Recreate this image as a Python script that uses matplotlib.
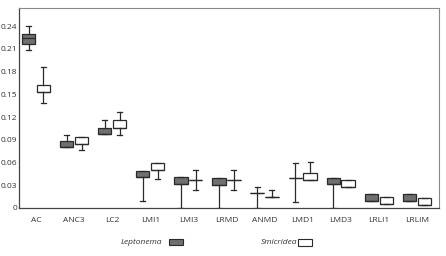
import matplotlib.pyplot as plt
from matplotlib.patches import Rectangle

plt.rcParams['font.family'] = ['Open Sans', 'DejaVu Sans']

categories = ['AC', 'ANC3', 'LC2', 'LMI1', 'LMI3', 'LRMD', 'ANMD', 'LMD1', 'LMD3', 'LRLI1', 'LRLIM']

# Leptonema (dark boxes)
lep_lo = [0.209, 0.080, 0.097, 0.009, 0.0, 0.0, 0.0, 0.0083, 0.0, 0.0097, 0.0089]
lep_q1 = [0.217, 0.080, 0.097, 0.0406, 0.032, 0.031, 0.0195, 0.039, 0.0318, 0.0097, 0.0089]
lep_med = [0.224, 0.080, 0.097, 0.0406, 0.032, 0.031, 0.0195, 0.039, 0.0318, 0.0097, 0.0089]
lep_q3 = [0.230, 0.089, 0.106, 0.049, 0.0406, 0.040, 0.0195, 0.039, 0.040, 0.0185, 0.0185]
lep_hi = [0.240, 0.096, 0.116, 0.049, 0.0406, 0.040, 0.028, 0.059, 0.040, 0.0185, 0.0185]

# Smicridea (white boxes)
smi_lo = [0.139, 0.076, 0.0957, 0.038, 0.024, 0.024, 0.0146, 0.037, 0.0274, 0.0049, 0.004]
smi_q1 = [0.153, 0.085, 0.106, 0.050, 0.0375, 0.0375, 0.0146, 0.037, 0.0274, 0.0049, 0.004]
smi_med = [0.153, 0.085, 0.106, 0.050, 0.0375, 0.0375, 0.0146, 0.037, 0.0274, 0.0049, 0.004]
smi_q3 = [0.162, 0.094, 0.1165, 0.060, 0.0375, 0.0375, 0.0146, 0.0467, 0.037, 0.0142, 0.0136]
smi_hi = [0.186, 0.094, 0.127, 0.060, 0.050, 0.050, 0.024, 0.061, 0.037, 0.0142, 0.0136]

yticks = [0, 0.03, 0.06, 0.09, 0.12, 0.15, 0.18, 0.21, 0.24]
ytick_labels = ['0', '0.03', '0.06', '0.09', '0.12', '0.15', '0.18', '0.21', '0.24']


def stats(lo, q1, med, q3, hi):
    return [dict(whislo=a, q1=b, med=c, q3=d, whishi=e, fliers=[])
            for a, b, c, d, e in zip(lo, q1, med, q3, hi)]


fig = plt.figure(figsize=(4.46, 2.56), dpi=100)
ax = fig.add_axes([0.0426, 0.1875, 0.9414, 0.7815])

pos = list(range(len(categories)))
off = 0.195
w = 0.35
edge = '#2a2a2a'

for st, shift, fill in [(stats(lep_lo, lep_q1, lep_med, lep_q3, lep_hi), -off, '#6f6f6f'),
                        (stats(smi_lo, smi_q1, smi_med, smi_q3, smi_hi), off, 'white')]:
    ax.bxp(st, positions=[p + shift for p in pos], widths=w, capwidths=0.13,
           showfliers=False, patch_artist=True, manage_ticks=False,
           boxprops=dict(facecolor=fill, edgecolor=edge, linewidth=0.9),
           whiskerprops=dict(color=edge, linewidth=0.9),
           capprops=dict(color=edge, linewidth=0.9),
           medianprops=dict(color=edge, linewidth=0.9))

ax.set_xlim(-0.446, 10.577)
ax.set_ylim(0, 0.264)
ax.set_xticks(pos)
ax.set_xticklabels(categories)
ax.set_yticks(yticks)
ax.set_yticklabels(ytick_labels)
ax.tick_params(axis='both', length=0, labelsize=6, colors='#333333')
ax.tick_params(axis='y', pad=1.5)
ax.tick_params(axis='x', pad=6.5)
for s in ['left', 'bottom']:
    ax.spines[s].set_color('#444444')
    ax.spines[s].set_linewidth(0.9)
for s in ['top', 'right']:
    ax.spines[s].set_color('#888888')
    ax.spines[s].set_linewidth(0.8)

# legend
fig.text(121 / 446, 1 - 242 / 256, 'Leptonema', style='italic', fontsize=6,
         color='#333333', va='center', ha='left')
fig.patches.append(Rectangle((169 / 446, 1 - 245 / 256), 14 / 446, 6 / 256,
                             transform=fig.transFigure, facecolor='#6f6f6f',
                             edgecolor=edge, linewidth=0.8))
fig.text(261 / 446, 1 - 242 / 256, 'Smicridea', style='italic', fontsize=6,
         color='#333333', va='center', ha='left')
fig.patches.append(Rectangle((298 / 446, 1 - 245.5 / 256), 14 / 446, 7 / 256,
                             transform=fig.transFigure, facecolor='white',
                             edgecolor=edge, linewidth=0.8))

fig.savefig('out.png', dpi=100)
